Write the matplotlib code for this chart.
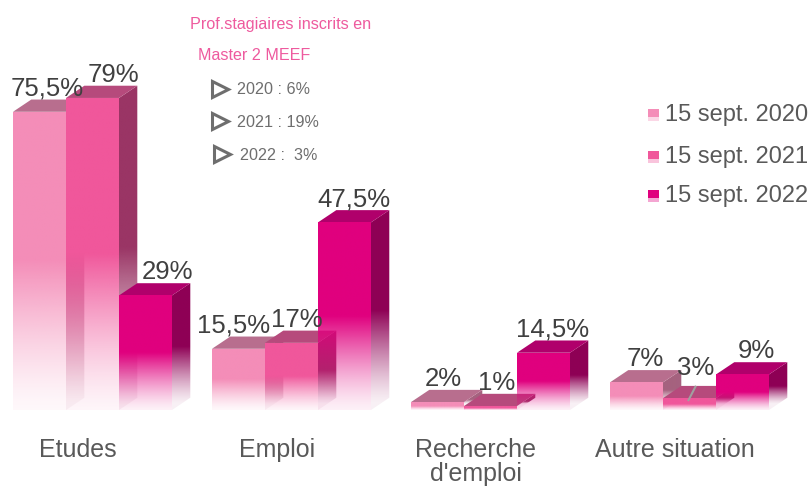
import numpy as np
import matplotlib
matplotlib.use("Agg")
import matplotlib.pyplot as plt
from matplotlib.patches import Polygon, Rectangle
from matplotlib.lines import Line2D
from matplotlib.colors import to_rgb
from matplotlib import font_manager

# ---------------- data ----------------
categories = ['Etudes', 'Emploi', "Recherche\nd'emploi", 'Autre situation']
series_names = ['15 sept. 2020', '15 sept. 2021', '15 sept. 2022']
v2020 = [75.5, 15.5, 2, 7]
v2021 = [79, 17, 1, 3]
v2022 = [29, 47.5, 14.5, 9]
note_title = ['Prof.stagiaires inscrits en', 'Master 2 MEEF']
note_lines = ['2020 : 6%', '2021 : 19%', '2022 :  3%']

series_values = [v2020, v2021, v2022]
front_cols = ['#F48DB8', '#F0579B', '#E0007E']
top_cols = ['#B86E8E', '#B64A7C', '#B0006B']
side_cols = ['#A5627F', '#9A3565', '#8E0055']

names = {f.name for f in font_manager.fontManager.ttflist}
MAIN = 'Liberation Sans' if 'Liberation Sans' in names else 'DejaVu Sans'
NARROW = 'Liberation Sans Narrow' if 'Liberation Sans Narrow' in names else MAIN
narrow_size = 13.5 if NARROW != MAIN else 11.6
plt.rcParams['font.family'] = [MAIN, 'DejaVu Sans']

W, H = 811, 486
fig = plt.figure(figsize=(W / 100, H / 100), dpi=100)
ax = fig.add_axes([0, 0, 1, 1])
XL = (-0.4648, 3.6106)
YL = (-19.24, 103.8)

bw = 0.2663      # bar width (group spacing = 1)
dx = 0.092       # depth offset x
dy = 3.1         # depth offset y (in %)

def grad_img(color, ys, h, fade_start=0.5, min_alpha=0.06):
    frac = np.clip(ys / max(h, 1e-6), 0, 1)
    a = np.clip(frac / fade_start, 0, 1) ** 1.3
    alpha = min_alpha + (1 - min_alpha) * a
    img = np.zeros((len(ys), 1, 4))
    img[..., :3] = to_rgb(color)
    img[:, 0, 3] = alpha
    return img

z = 2
n = 200
for gi in range(len(categories)):
    for si, vals in enumerate(series_values):
        h = vals[gi]
        x0 = gi + (si - 1.5) * bw
        x1 = x0 + bw
        # side face
        side = Polygon([(x1, 0), (x1 + dx, dy), (x1 + dx, h + dy), (x1, h)],
                       closed=True, facecolor='none', edgecolor='none')
        ax.add_patch(side)
        ys = np.linspace(0, h + dy, n)
        im = ax.imshow(grad_img(side_cols[si], ys - dy * 0.5, h), extent=(x1, x1 + dx, 0, h + dy),
                       origin='lower', aspect='auto', interpolation='bilinear', zorder=z)
        im.set_clip_path(side)
        z += 1
        # top face
        top = Polygon([(x0, h), (x0 + dx, h + dy), (x1 + dx, h + dy), (x1, h)],
                      closed=True, facecolor=top_cols[si], edgecolor='none', zorder=z)
        ax.add_patch(top)
        z += 1
        # front face
        front = Rectangle((x0, 0), bw, h, facecolor='none', edgecolor='none')
        ax.add_patch(front)
        ys = np.linspace(0, h, n)
        im = ax.imshow(grad_img(front_cols[si], ys, h), extent=(x0, x1, 0, h),
                       origin='lower', aspect='auto', interpolation='bilinear', zorder=z)
        im.set_clip_path(front)
        z += 1

# value labels
nudges = {(0, 0): -0.008, (0, 1): 0.058, (0, 2): 0.065, (1, 0): -0.073, (1, 1): -0.018,
          (2, 0): -0.018, (2, 1): -0.013, (3, 1): -0.013, (3, 2): 0.023}
for gi in range(len(categories)):
    for si, vals in enumerate(series_values):
        h = vals[gi]
        x0 = gi + (si - 1.5) * bw
        xc = x0 + bw / 2 + dx / 2 + nudges.get((gi, si), 0)
        lab = f"{h:g}".replace('.', ',') + '%'
        ylab = h + dy + 1.0
        if gi == 3 and si == 1:
            ylab = h + dy + 2.8
            ax.plot([x0 + bw / 2 + 0.03, x0 + bw / 2 - 0.005], [h + dy - 0.2, h - 0.5],
                    color='#A0A0A0', lw=1.5, zorder=200)
        ax.text(xc, ylab, lab, ha='center', va='baseline', fontsize=18.5,
                color='#404040', zorder=300)

# category labels
for gi, c in enumerate(categories):
    ax.text(gi - 0.075, -7.2, c, ha='center', va='top', fontsize=18,
            color='#595959', linespacing=1.0)

ax.set_xlim(*XL)
ax.set_ylim(*YL)
ax.axis('off')

# legend (manual)
leg_y = [115, 157, 196]
for si, name in enumerate(series_names):
    py = leg_y[si]
    fx, fy = 648 / W, 1 - (py + 6) / H
    fig.patches.append(Rectangle((fx, fy + 4 / H), 11 / W, 8 / H, transform=fig.transFigure,
                                 facecolor=front_cols[si], edgecolor='none'))
    fig.patches.append(Rectangle((fx, fy), 11 / W, 4 / H, transform=fig.transFigure,
                                 facecolor=front_cols[si], alpha=0.35, edgecolor='none'))
    fig.text(665 / W, 1 - py / H, name, ha='left', va='center', fontsize=17, color='#595959')

# annotation
pink = '#EE5A9E'
fig.text(190 / W, 1 - 25 / H, note_title[0], ha='left', va='center',
         fontsize=narrow_size, color=pink, family=[NARROW, 'DejaVu Sans'])
fig.text(198 / W, 1 - 56 / H, note_title[1], ha='left', va='center',
         fontsize=narrow_size, color=pink, family=[NARROW, 'DejaVu Sans'])
tri_x = [220, 220, 222]
txt_x = [237, 237, 240]
line_y = [89, 121, 154]
for k, t in enumerate(note_lines):
    fig.add_artist(Line2D([tri_x[k] / W], [1 - line_y[k] / H], transform=fig.transFigure,
                          marker='>', markersize=11, markerfacecolor='white',
                          markeredgecolor='#6E6E6E', markeredgewidth=2.2, linestyle='none'))
    fig.text(txt_x[k] / W, 1 - (line_y[k] + 1) / H, t, ha='left', va='center',
             fontsize=narrow_size, color='#6E6E6E', family=[NARROW, 'DejaVu Sans'])

fig.savefig('out.png', dpi=100, facecolor='white')
